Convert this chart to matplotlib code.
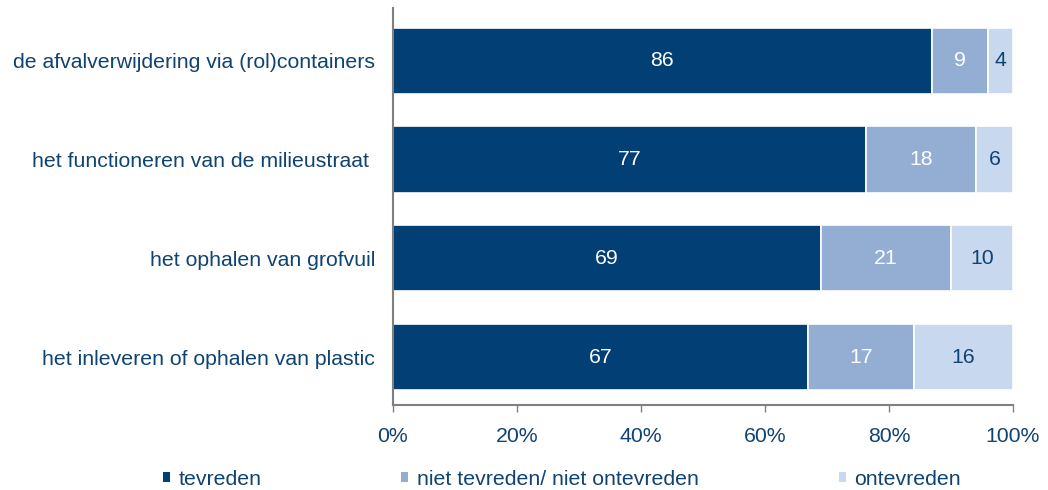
import numpy as np
import matplotlib.pyplot as plt
from matplotlib.patches import Patch

plt.rcParams['font.family'] = ['Liberation Sans', 'DejaVu Sans']

# Data
categories = ['de afvalverwijdering via (rol)containers',
              'het functioneren van de milieustraat ',
              'het ophalen van grofvuil',
              'het inleveren of ophalen van plastic']
tevreden = [86, 77, 69, 67]
neutraal = [9, 18, 21, 17]
ontevreden = [4, 6, 10, 16]
series_names = ['tevreden', 'niet tevreden/ niet ontevreden', 'ontevreden']

colors = ['#013F74', '#93ADD3', '#C8D8EE']
label_colors = ['white', 'white', '#0F4372']
text_color = '#0F4372'
fs = 15.3

data = np.array([tevreden, neutraal, ontevreden], dtype=float)
shares = data / data.sum(axis=0) * 100  # stacked to 100%

fig = plt.figure(figsize=(10.48, 4.9), dpi=100)
ax = fig.add_axes([0.375, 0.1735, 0.5916, 0.8105])

y = np.arange(len(categories))
left = np.zeros(len(categories))
for i in range(3):
    bars = ax.barh(y, shares[i], left=left, height=0.67, color=colors[i],
                   edgecolor='white', linewidth=1.2, label=series_names[i])
    ax.bar_label(bars, labels=[str(int(v)) for v in data[i]], label_type='center',
                 color=label_colors[i], fontsize=fs)
    left += shares[i]

ax.set_xlim(0, 100)
ax.set_ylim(3.485, -0.535)
ax.set_yticks(y)
ax.set_yticklabels(categories)
ax.set_xticks(np.arange(0, 101, 20))
ax.set_xticklabels([f'{v}%' for v in range(0, 101, 20)])
ax.tick_params(axis='y', length=0, pad=13, labelsize=fs, labelcolor=text_color)
ax.tick_params(axis='x', length=5, width=1, color='#808080', pad=11,
               labelsize=fs, labelcolor=text_color)
for s in ['top', 'right']:
    ax.spines[s].set_visible(False)
for s in ['left', 'bottom']:
    ax.spines[s].set_color('#808080')
    ax.spines[s].set_linewidth(1.5)

handles = [Patch(facecolor=c, edgecolor='none') for c in colors]
fig.legend(handles, series_names, loc='center', bbox_to_anchor=(0.536, 0.022),
           ncol=3, frameon=False, fontsize=fs, handlelength=0.33, handleheight=0.33,
           handletextpad=0.38, columnspacing=6.6, labelcolor=text_color)

fig.savefig('out.png', dpi=100)
